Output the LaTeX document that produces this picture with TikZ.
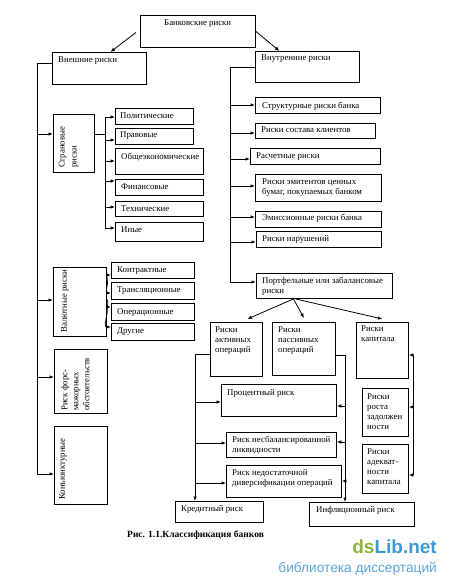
\documentclass[tikz,border=0pt]{standalone}
\usepackage{fontspec}
\setmainfont{Liberation Serif}
\newfontfamily\wmfont{Liberation Sans}
\usetikzlibrary{arrows.meta}
\definecolor{wmgreen}{HTML}{8DB43C}
\definecolor{wmblue}{HTML}{3E9AD2}
\definecolor{wmlight}{HTML}{5AA6D8}
\newcommand\mybox[5]{\node[bx, minimum width=#4pt, minimum height=#5pt] (#1) at (#2,#3) {};}
\newcommand\mytext[4]{\node[tx] (#1) at (#2,#3) {#4};}
\begin{document}
\begin{tikzpicture}[x=1pt,y=-1pt,
  bx/.style={draw, line width=0.9pt, anchor=north west, inner sep=0pt},
  tx/.style={anchor=north west, inner sep=0pt, align=left, font=\fontsize{8.8}{10}\selectfont},
  rtx/.style={rotate=90, anchor=north west, inner sep=0pt, align=left},
  ln/.style={line width=0.8pt},
  arr/.style={line width=0.8pt, -{Latex[length=4.5pt,width=3.6pt]}}]
\fill[white] (0,0) rectangle (450,582);
\useasboundingbox (0,0) rectangle (450,582);
% top level
\mybox{top}{140}{15}{115}{32}\mytext{topt}{164}{20}{Банковские риски}
\mybox{ext}{52}{52}{94}{32}\mytext{extt}{58}{57}{Внешние риски}
\mybox{int}{255}{51}{104}{31}\mytext{intt}{261}{55}{Внутренние риски}
% internal risks
\mybox{str}{255}{97}{125}{16}\mytext{strt}{262}{102}{Структурные риски банка}
\mybox{sos}{255}{123}{120}{15}\mytext{sost}{261}{127}{Риски состава клиентов}
\mybox{ras}{250}{148}{130}{16}\mytext{rast}{256}{153}{Расчетные риски}
\mybox{emi}{255}{174}{126}{27}\mytext{emit}{262}{179}{Риски эмитентов ценных\\бумаг, покупаемых банком}
\mybox{ems}{255}{211}{126}{16}\mytext{emst}{262}{214}{Эмиссионные риски банка}
\mybox{nar}{256}{231}{125}{16}\mytext{nart}{262}{235}{Риски нарушений}
\mybox{por}{256}{273}{136}{25}\mytext{port}{262}{277}{Портфельные или забалансовые\\риски}
% external risks
\mybox{stran}{53}{114}{41}{58}
\node[rtx, font=\fontsize{8.8}{12}\selectfont] (strant) at (58.5,168) {Страновые\\риски};
\mybox{pol}{115}{108}{78}{16}\mytext{polt}{120}{113}{Политические}
\mybox{pra}{115}{128}{78}{16}\mytext{prat}{120}{132}{Правовые}
\mybox{obs}{115}{148}{88}{26}\mytext{obst}{121}{153}{Общеэкономические}
\mybox{fin}{115}{179}{88}{16}\mytext{fint}{121}{184}{Финансовые}
\mybox{teh}{115}{201}{88}{15}\mytext{teht}{121}{206}{Технические}
\mybox{iny}{115}{222}{88}{19}\mytext{inyt}{121}{227}{Иные}
\mybox{val}{53}{267}{53}{69}
\node[rtx, font=\fontsize{8.8}{11}\selectfont] (valt) at (61,333) {Валютные риски};
\mybox{kon}{111}{262}{83}{16}\mytext{kont}{117}{267}{Контрактные}
\mybox{tra}{111}{282}{83}{17}\mytext{trat}{117}{287}{Трансляционные}
\mybox{ope}{111}{303}{83}{17}\mytext{opet}{117}{308}{Операционные}
\mybox{dru}{111}{323}{83}{17}\mytext{drut}{117}{328}{Другие}
\mybox{fors}{54}{349}{53}{64}
\node[rtx, font=\fontsize{8.8}{11}\selectfont] (forst) at (61,411) {Риск форс-\\мажорных\\обстоятельств};
\mybox{konj}{54}{426}{53}{78}
\node[rtx, font=\fontsize{8.8}{11}\selectfont] (konjt) at (59,500) {Конъюнктурные};
% portfolio sub-tree
\mybox{akt}{210}{322}{52}{54}\mytext{aktt}{215}{327}{Риски\\активных\\операций}
\mybox{pas}{272}{322}{63}{53}\mytext{past}{278}{327}{Риски\\пассивных\\операций}
\mybox{kap}{356}{322}{52}{56}\mytext{kapt}{361}{326}{Риски\\капитала}
\mybox{proc}{221}{384}{115}{32}\mytext{proct}{227}{389}{Процентный риск}
\mybox{rost}{362}{388}{46}{48}\mytext{rostt}{367}{394}{Риски\\роста\\задолжен\\ности}
\mybox{adek}{362}{444}{46}{49}\mytext{adekt}{367}{449}{Риски\\адекват-\\ности\\капитала}
\mybox{nesb}{226}{432}{110}{25}\mytext{nesbt}{232}{436}{Риск несбалансированной\\ликвидности}
\mybox{nedo}{226}{465}{115}{32}\mytext{nedot}{232}{469}{Риск недостаточной\\диверсификации операций}
\mybox{kred}{175}{501}{88}{21}\mytext{kredt}{181}{505}{Кредитный риск}
\mybox{infl}{309}{502}{105}{24}\mytext{inflt}{316}{506}{Инфляционный риск}
% caption and watermark
\node[anchor=west, inner sep=0pt, font=\fontsize{9.5}{11}\selectfont\bfseries] (cap) at (127,535) {Рис. 1.1.Классификация банков};
\node[anchor=base east, inner sep=0pt, font=\wmfont\bfseries\fontsize{19}{20}\selectfont] (wm1) at (437,553) {\textcolor{wmgreen}{ds}\textcolor{wmblue}{Lib.net}};
\node[anchor=base east, inner sep=0pt, font=\wmfont\fontsize{13.7}{15}\selectfont, text=wmlight] (wm2) at (437,572) {библиотека диссертаций};
% top arrows
\draw[arr] ([xshift=-4pt,yshift=-1pt]top.west) -- ([xshift=11pt]ext.north);
\draw[arr] (top.east) -- ([xshift=-28pt]int.north);
% left bus
\coordinate (lb0) at (37,63);
\coordinate (lb1) at (37,134);
\coordinate (lb2) at (37,300);
\coordinate (lb3) at (37,377);
\coordinate (lb4) at (37,474);
\draw[ln] (lb0 -| ext.west) -- (lb0) -- (lb4);
\draw[arr] (lb1) -- (lb1 -| stran.west);
\draw[arr] (lb2) -- (lb2 -| val.west);
\draw[arr] (lb3) -- (lb3 -| fors.west);
\draw[arr] (lb4) -- (lb4 -| konj.west);
% country risks branch
\coordinate (sb) at (105,134);
\coordinate (s1) at (105,117);
\coordinate (s2) at (105,140);
\coordinate (s3) at (105,161);
\coordinate (s4) at (105,181);
\coordinate (s5) at (105,207);
\coordinate (s6) at (105,228);
\draw[ln] (sb -| stran.east) -- (sb);
\draw[ln] (s1) -- (s6);
\draw[arr] (s1) -- (s1 -| pol.west);
\draw[arr] (s2) -- (s2 -| pra.west);
\draw[arr] (s3) -- (s3 -| obs.west);
\draw[arr] (s4) -- (s4 -| fin.west);
\draw[arr] (s5) -- (s5 -| teh.west);
\draw[arr] (s6) -- (s6 -| iny.west);
% currency risks branch
\coordinate (vs1) at (0,287);\coordinate (ve1) at (0,275);
\coordinate (vs2) at (0,293);\coordinate (ve2) at (0,293);
\coordinate (vs3) at (0,299);\coordinate (ve3) at (0,307);
\coordinate (vs4) at (0,305);\coordinate (ve4) at (0,327);
\draw[arr] (vs1 -| val.east) to[out=70,in=180] (ve1 -| kon.west);
\draw[arr] (vs2 -| val.east) -- (ve2 -| tra.west);
\draw[arr] (vs3 -| val.east) to[out=-60,in=180] (ve3 -| ope.west);
\draw[arr] (vs4 -| val.east) to[out=-75,in=180] (ve4 -| dru.west);
% right bus
\coordinate (rb0) at (230,67);
\coordinate (rb1) at (230,105);
\coordinate (rb2) at (230,133);
\coordinate (rb3) at (230,159);
\coordinate (rb4) at (230,186);
\coordinate (rb5) at (230,217);
\coordinate (rb6) at (230,242);
\coordinate (rb7) at (230,282);
\draw[ln] (rb0 -| int.west) -- (rb0) -- (rb7);
\draw[arr] (rb1) -- (rb1 -| str.west);
\draw[arr] (rb2) -- (rb2 -| sos.west);
\draw[arr] (rb3) -- (rb3 -| ras.west);
\draw[arr] (rb4) -- (rb4 -| emi.west);
\draw[arr] (rb5) -- (rb5 -| ems.west);
\draw[arr] (rb6) -- (rb6 -| nar.west);
\draw[arr] (rb7) -- (rb7 -| por.west);
% portfolio arrows
\draw[arr] ([xshift=-31pt]por.south) -- ([xshift=11pt,yshift=3pt]akt.north);
\draw[arr] ([xshift=-31pt]por.south) -- ([yshift=4pt]pas.north);
\draw[arr] ([xshift=-29pt]por.south) -- ([yshift=3pt]kap.north);
% active operations bus
\coordinate (ab) at (195,354);
\coordinate (a1) at (195,402);
\coordinate (a2) at (195,443);
\coordinate (a3) at (195,483);
\draw[ln] (ab -| akt.west) -- (ab);
\draw[arr] (ab) -- (ab |- kred.north);
\draw[arr] (a1) -- (a1 -| proc.west);
\draw[arr] (a2) -- (a2 -| nesb.west);
\draw[arr] (a3) -- (a3 -| nedo.west);
% passive operations bus
\coordinate (pb) at (345,355);
\coordinate (p1) at (345,406);
\coordinate (p2) at (345,442);
\coordinate (p3) at (345,481);
\draw[ln] (pb -| pas.east) -- (pb);
\draw[arr] (pb) -- (pb |- infl.north);
\draw[arr] (p1) -- (p1 -| proc.east);
\draw[arr] (p2) -- (p2 -| nesb.east);
\draw[arr] (p3) -- (p3 -| nedo.east);
% capital bracket
\coordinate (k1) at (413,355);
\coordinate (k2) at (413,407);
\coordinate (k3) at (413,475);
\draw[ln] (k1) -- (k3);
\draw[arr] (k1) -- (k1 -| kap.east);
\draw[arr] (k2) -- (k2 -| rost.east);
\draw[arr] (k3) -- (k3 -| adek.east);
\end{tikzpicture}
\end{document}
